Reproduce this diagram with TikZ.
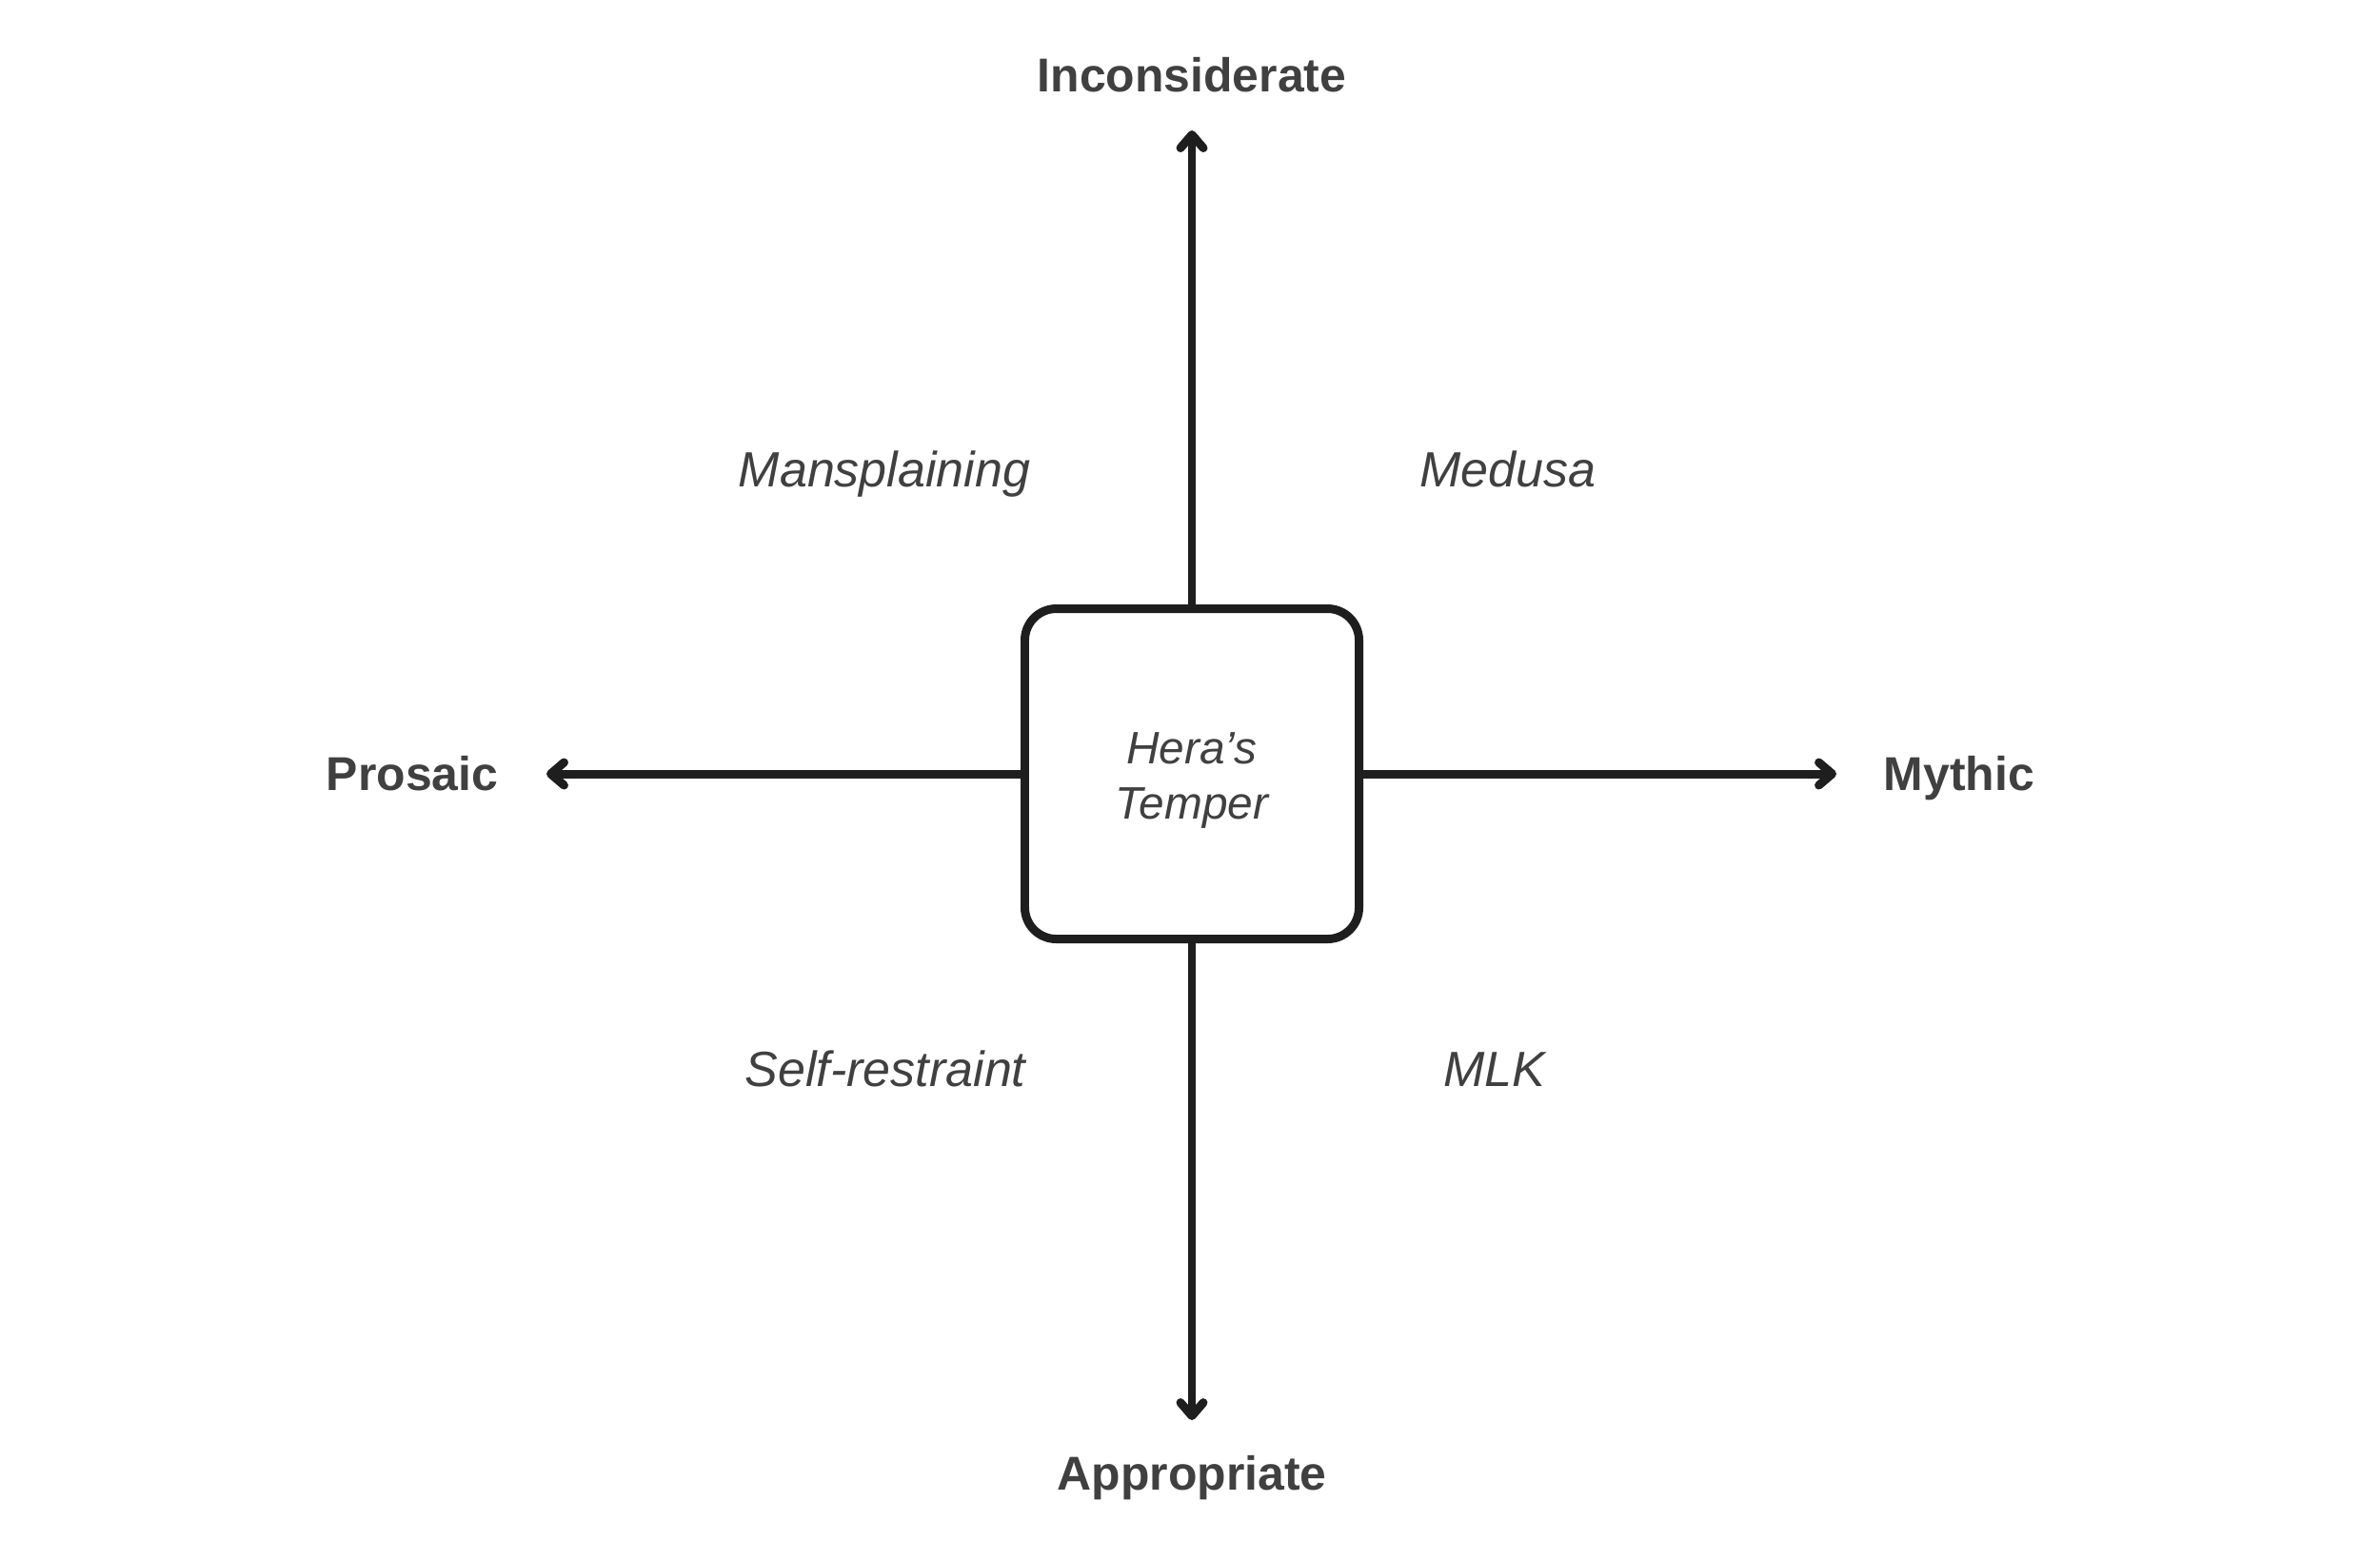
\documentclass[tikz,border=0pt]{standalone}
\usepackage{fontspec}
\setmainfont{Liberation Sans}
\usetikzlibrary{arrows.meta,positioning}
\definecolor{heraInk}{HTML}{1E1E1E}
\definecolor{heraText}{HTML}{404040}

\begin{document}
\begin{tikzpicture}[
   core/.style={draw=heraInk,line width=2.55pt,rounded corners=0.33cm,
               minimum width=3.51cm,minimum height=3.47cm,align=center,
               text height=30pt,
               font=\fontsize{13.6}{16.7}\selectfont\itshape,text=heraText},
   pole/.style={font=\fontsize{14.2}{17}\selectfont\bfseries,text=heraText,
               inner sep=0pt,text height=10.2pt,text depth=0pt},
   quad/.style={font=\fontsize{14.8}{17}\selectfont\itshape,text=heraText,
               inner sep=0pt,anchor=base},
   axis/.style={draw=heraInk,line width=2.55pt,
               -{Straight Barb[length=1.4mm,width=2.4mm,round]}}]
  \useasboundingbox (0,0) rectangle (25,-16.18);
  \node[core] (hera) at (12.52,-8.13) {Hera’s\\Temper};
  % where the four arrows end
  \coordinate (tipN) at (12.52,-1.37);
  \coordinate (tipS) at (12.52,-14.92);
  \coordinate (tipW) at (5.74,-8.13);
  \coordinate (tipE) at (19.29,-8.13);
  \draw[axis] (hera.north) -- (tipN);
  \draw[axis] (hera.south) -- (tipS);
  \draw[axis] (hera.west) -- (tipW);
  \draw[axis] (hera.east) -- (tipE);
  % pole labels
  \node[pole,above=0.40cm of tipN] (incons) {Inconsiderate};
  \node[pole,below=0.37cm of tipS] (approp) {Appropriate};
  \node[pole,left=0.50cm of tipW] (prosaic) {Prosaic};
  \node[pole,right=0.49cm of tipE] (mythic) {Mythic};
  % quadrants
  \node[quad] (mansp) at (9.29,-5.11) {Mansplaining};
  \node[quad] (medusa) at (15.84,-5.11) {Medusa};
  \node[quad] (selfr) at (9.30,-11.41) {Self-restraint};
  \node[quad] (mlk) at (15.70,-11.41) {MLK};
\end{tikzpicture}
\end{document}
